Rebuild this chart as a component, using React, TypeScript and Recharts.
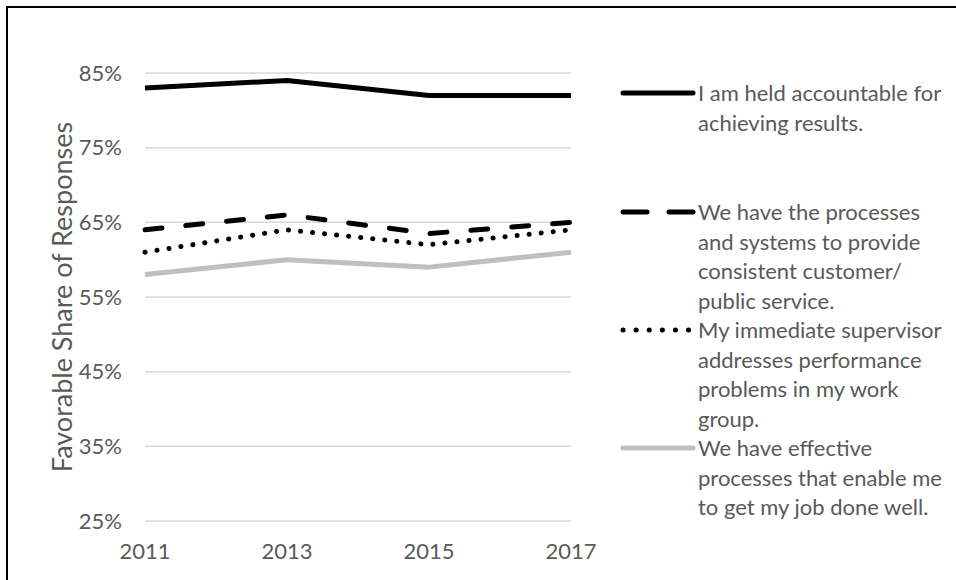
import { LineChart, Line, XAxis, YAxis, CartesianGrid } from 'recharts'

// ── Data ─────────────────────────────────────────────────────────────────────
const YEARS = ['2011', '2013', '2015', '2017']
const ACCOUNTABLE = [83, 84, 82, 82]
const PROCESSES_SYSTEMS = [64, 66, 63.5, 65]
const SUPERVISOR = [61, 64, 62, 64]
const EFFECTIVE_PROCESSES = [58, 60, 59, 61]
const Y_TICKS = [25, 35, 45, 55, 65, 75, 85]

const LABEL_ACCOUNTABLE = ['I am held accountable for', 'achieving results.']
const LABEL_PROCESSES_SYSTEMS = ['We have the processes', 'and systems to provide', 'consistent customer/', 'public service.']
const LABEL_SUPERVISOR = ['My immediate supervisor', 'addresses performance', 'problems in my work', 'group.']
const LABEL_EFFECTIVE = ['We have effective', 'processes that enable me', 'to get my job done well.']

const data = YEARS.map((year, i) => ({
  year,
  accountable: ACCOUNTABLE[i],
  processes: PROCESSES_SYSTEMS[i],
  supervisor: SUPERVISOR[i],
  effective: EFFECTIVE_PROCESSES[i],
}))

// ── Styles ───────────────────────────────────────────────────────────────────
const FONT = 'Lato, "Open Sans", sans-serif'
const TEXT = '#595959'
const TICK = { fontSize: 22, fill: TEXT, fontFamily: FONT }

const SERIES = [
  { key: 'accountable', lines: LABEL_ACCOUNTABLE, stroke: '#000000', dash: undefined, gapAfter: 60 },
  { key: 'processes', lines: LABEL_PROCESSES_SYSTEMS, stroke: '#000000', dash: '24 22', gapAfter: 0 },
  { key: 'supervisor', lines: LABEL_SUPERVISOR, stroke: '#000000', dash: '0.1 13', gapAfter: 0 },
  { key: 'effective', lines: LABEL_EFFECTIVE, stroke: '#bfbfbf', dash: undefined, gapAfter: 0 },
]

// ── Legend (drawn beside the plot) ───────────────────────────────────────────
function LegendBlock() {
  return (
    <div style={{ fontFamily: FONT, fontSize: 22, color: TEXT, lineHeight: '29.5px' }}>
      {SERIES.map((s) => (
        <div key={s.key} style={{ display: 'flex', marginBottom: s.gapAfter }}>
          <svg width={78} height={29.5} style={{ flexShrink: 0 }}>
            <line
              x1={3} x2={73} y1={15} y2={15}
              stroke={s.stroke} strokeWidth={5} strokeLinecap="round"
              strokeDasharray={s.dash}
            />
          </svg>
          <div>
            {s.lines.map((t, i) => (
              <div key={i} style={{ whiteSpace: 'nowrap' }}>{t}</div>
            ))}
          </div>
        </div>
      ))}
    </div>
  )
}

export default function App() {
  return (
    <div style={{ position: 'absolute', left: 0, top: 0, width: 956, height: 580, background: '#fff', overflow: 'hidden' }}>
      <div style={{ position: 'absolute', left: 6, top: 6, width: 960, height: 600, borderTop: '2px solid #000', borderLeft: '2px solid #000', boxSizing: 'border-box' }} />
      <div style={{ position: 'absolute', left: 0, top: 0 }}>
        <LineChart width={956} height={580} data={data} margin={{ top: 73, right: 385, left: 40, bottom: 0 }}>
          <CartesianGrid vertical={false} stroke="#d9d9d9" strokeWidth={1.5} />
          <XAxis
            dataKey="year" axisLine={false} tickLine={false} tickSize={0} tickMargin={22}
            height={59} tick={TICK} interval={0}
          />
          <YAxis
            domain={[25, 85]} ticks={Y_TICKS} axisLine={false} tickLine={false}
            tickSize={0} tickMargin={23} width={105} tick={TICK}
            tickFormatter={(v) => `${v}%`}
            label={{
              value: 'Favorable Share of Responses', angle: -90, position: 'insideLeft', offset: 22,
              style: { textAnchor: 'middle', fontSize: 27, fill: TEXT, fontFamily: FONT },
            }}
          />
          <Line dataKey="accountable" stroke="#000" strokeWidth={5} dot={false} isAnimationActive={false} strokeLinejoin="round" />
          <Line dataKey="processes" stroke="#000" strokeWidth={5} strokeDasharray="17 24" strokeLinecap="round" dot={false} isAnimationActive={false} />
          <Line dataKey="supervisor" stroke="#000" strokeWidth={5} strokeDasharray="0.1 12" strokeLinecap="round" dot={false} isAnimationActive={false} />
          <Line dataKey="effective" stroke="#bfbfbf" strokeWidth={5} dot={false} isAnimationActive={false} strokeLinejoin="round" />
        </LineChart>
      </div>
      <div style={{ position: 'absolute', left: 620, top: 78 }}>
        <LegendBlock />
      </div>
    </div>
  )
}
